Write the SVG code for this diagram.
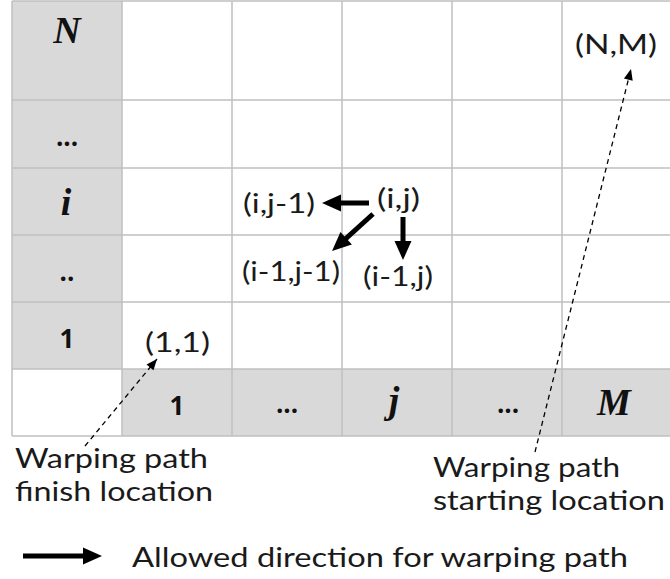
<svg xmlns="http://www.w3.org/2000/svg" width="670" height="579" viewBox="0 0 670 579">
  <style>
    .hdr { fill: #d9d9d9; }
    .grid line { stroke: #bfbfbf; stroke-width: 1.5; }
    .lbl { font-family: Lato, "Open Sans", sans-serif; font-size: 27px; fill: #1a1a1a; }
    .num { font-family: "Open Sans", "Noto Sans", sans-serif; font-size: 26px; font-weight: bold; fill: #111; text-anchor: middle; }
    .var { font-family: "Liberation Serif", "DejaVu Serif", serif; font-size: 38px; font-weight: bold; font-style: italic; fill: #111; text-anchor: middle; }
    .move { stroke: #000; stroke-width: 5; fill: none; marker-end: url(#bigHead); }
    .guide { stroke: #000; stroke-width: 1.3; stroke-dasharray: 5 4; fill: none; marker-end: url(#smallHead); }
  </style>
  <defs>
    <marker id="bigHead" markerUnits="userSpaceOnUse" markerWidth="19" markerHeight="17" refX="6" refY="8.5" orient="auto" overflow="visible">
      <path d="M0,0 L19,8.5 L0,17 z" fill="#000"/>
    </marker>
    <marker id="smallHead" markerUnits="userSpaceOnUse" markerWidth="11" markerHeight="9" refX="11" refY="4.5" orient="auto" overflow="visible">
      <path d="M0,0 L11,4.5 L0,9 z" fill="#000"/>
    </marker>
  </defs>

  <rect x="0" y="0" width="670" height="579" fill="#fff"/>

  <!-- shaded header column and row -->
  <g id="headers">
    <rect class="hdr" x="12" y="1" width="110" height="368"/>
    <rect class="hdr" x="122" y="369" width="550" height="67"/>
  </g>

  <!-- cost matrix grid lines -->
  <g class="grid" id="grid">
    <line x1="12" y1="1" x2="672" y2="1"/>
    <line x1="12" y1="100" x2="672" y2="100"/>
    <line x1="12" y1="168" x2="672" y2="168"/>
    <line x1="12" y1="235" x2="672" y2="235"/>
    <line x1="12" y1="302" x2="672" y2="302"/>
    <line x1="12" y1="369" x2="672" y2="369"/>
    <line x1="12" y1="436" x2="672" y2="436"/>
    <line x1="12" y1="1" x2="12" y2="436"/>
    <line x1="122" y1="1" x2="122" y2="436"/>
    <line x1="232" y1="1" x2="232" y2="436"/>
    <line x1="342" y1="1" x2="342" y2="436"/>
    <line x1="452" y1="1" x2="452" y2="436"/>
    <line x1="562" y1="1" x2="562" y2="436"/>
  </g>

  <!-- row indices -->
  <g id="row-N"><text class="var" x="67" y="43">N</text></g>
  <g id="row-dots3"><text class="num" x="67" y="146">...</text></g>
  <g id="row-i"><text class="var" x="66" y="215">i</text></g>
  <g id="row-dots2"><text class="num" x="67" y="281">..</text></g>
  <g id="row-1"><text class="num" x="67" y="348">1</text></g>

  <!-- column indices -->
  <g id="col-1"><text class="num" x="177" y="415">1</text></g>
  <g id="col-dots-a"><text class="num" x="287" y="413">...</text></g>
  <g id="col-j"><text class="var" x="394" y="413">j</text></g>
  <g id="col-dots-b"><text class="num" x="508" y="413">...</text></g>
  <g id="col-M"><text class="var" x="614" y="415">M</text></g>

  <!-- cell labels -->
  <g id="cell-NM"><text class="lbl" x="575" y="54" textLength="82" lengthAdjust="spacingAndGlyphs">(N,M)</text></g>
  <g id="cell-ij"><text class="lbl" x="377" y="208" textLength="43" lengthAdjust="spacingAndGlyphs">(i,j)</text></g>
  <g id="cell-ij1"><text class="lbl" x="243" y="213" textLength="72" lengthAdjust="spacingAndGlyphs">(i,j-1)</text></g>
  <g id="cell-i1j1"><text class="lbl" x="242" y="281" textLength="98" lengthAdjust="spacingAndGlyphs">(i-1,j-1)</text></g>
  <g id="cell-i1j"><text class="lbl" x="363" y="286" textLength="70" lengthAdjust="spacingAndGlyphs">(i-1,j)</text></g>
  <g id="cell-11"><text class="lbl" x="145" y="352" textLength="65" lengthAdjust="spacingAndGlyphs">(1,1)</text></g>

  <!-- annotations -->
  <g id="note-finish">
    <text class="lbl" x="15" y="468" textLength="193" lengthAdjust="spacingAndGlyphs">Warping path</text>
    <text class="lbl" x="15" y="501" textLength="198" lengthAdjust="spacingAndGlyphs">finish location</text>
  </g>
  <g id="note-start">
    <text class="lbl" x="433" y="477" textLength="187" lengthAdjust="spacingAndGlyphs">Warping path</text>
    <text class="lbl" x="433" y="510" textLength="232" lengthAdjust="spacingAndGlyphs">starting location</text>
  </g>
  <g id="legend">
    <line class="move" x1="23" y1="556" x2="89" y2="556"/>
    <text class="lbl" x="132" y="567" textLength="496" lengthAdjust="spacingAndGlyphs">Allowed direction for warping path</text>
  </g>

  <!-- connectors: allowed steps and location pointers -->
  <g id="connectors">
    <line class="move" x1="369" y1="203" x2="335" y2="203"/>
    <line class="move" x1="373" y1="214" x2="341.7" y2="242.3"/>
    <line class="move" x1="403" y1="217" x2="403" y2="247"/>
    <line class="guide" x1="85" y1="446" x2="157" y2="359"/>
    <line class="guide" x1="535" y1="452" x2="631" y2="69"/>
  </g>
</svg>
